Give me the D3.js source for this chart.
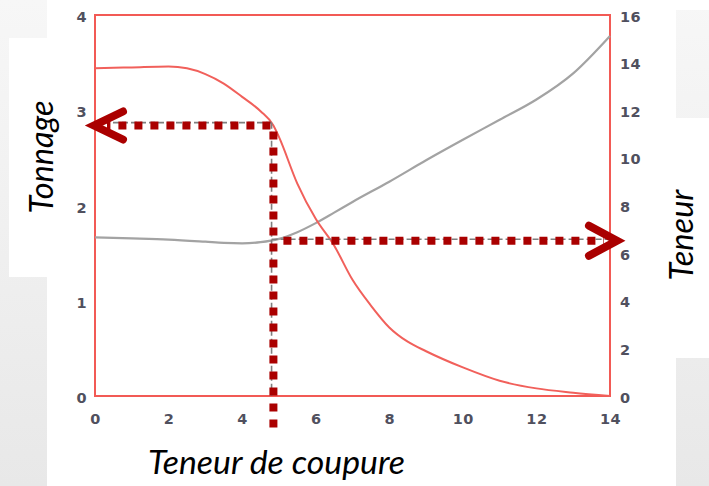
<!DOCTYPE html>
<html>
<head>
<meta charset="utf-8">
<script src="https://cdn.jsdelivr.net/npm/d3@7"></script>
<style>
  html, body { margin: 0; padding: 0; background: #ffffff; }
  svg { display: block; }
</style>
</head>
<body>
<svg id="chart" width="709" height="486"></svg>
<script>
// ---- Data ----
const cutoffX = [0, 1, 2, 2.5, 3, 3.5, 4, 4.5, 4.85, 5, 5.5, 6, 6.5, 7, 7.5, 8, 8.5, 9, 10, 11, 12, 13, 14];
const tonnage = [3.44, 3.45, 3.46, 3.44, 3.38, 3.28, 3.14, 2.99, 2.84, 2.72, 2.23, 1.86, 1.58, 1.22, 0.95, 0.72, 0.57, 0.47, 0.30, 0.16, 0.08, 0.035, 0.0];

const gradeX = [0, 1, 2, 3, 3.5, 4, 4.5, 5, 5.5, 6, 6.5, 7, 8, 9, 10, 11, 12, 13, 14];
const teneur = [6.66, 6.62, 6.57, 6.48, 6.43, 6.41, 6.46, 6.60, 6.88, 7.26, 7.70, 8.15, 9.00, 9.90, 10.76, 11.60, 12.45, 13.55, 15.12];

const xTicks = [0, 2, 4, 6, 8, 10, 12, 14];
const leftTicks = [0, 1, 2, 3, 4];
const rightTicks = [0, 2, 4, 6, 8, 10, 12, 14, 16];

const chosenCutoff = 4.85;      // Teneur de coupure choisie
const tonnageAtCutoff = 2.84;
const teneurAtCutoff = 6.52;
const guideCutoff = 4.80, guideTonnage = 2.87, guideTeneur = 6.58;

const xLabel = "Teneur de coupure";
const yLeftLabel = "Tonnage";
const yRightLabel = "Teneur";

// ---- Layout ----
const svg = d3.select("#chart");
const W = 709, H = 486;
const plot = { left: 95, right: 610, top: 15, bottom: 396 };

const x = d3.scaleLinear().domain([0, 14]).range([plot.left, plot.right]);
const yL = d3.scaleLinear().domain([0, 4]).range([plot.bottom, plot.top]);
const yR = d3.scaleLinear().domain([0, 16]).range([plot.bottom, plot.top]);

// ---- Background (slide) ----
const defs = svg.append("defs");
const grad = defs.append("linearGradient").attr("id", "bg").attr("x1", 0).attr("y1", 0).attr("x2", 0).attr("y2", 1);
grad.append("stop").attr("offset", "0%").attr("stop-color", "#f7f7f7");
grad.append("stop").attr("offset", "100%").attr("stop-color", "#e8e8e8");
svg.append("rect").attr("width", W).attr("height", H).attr("fill", "url(#bg)");
svg.append("rect").attr("x", 47).attr("y", 0).attr("width", 629).attr("height", H).attr("fill", "#ffffff");
svg.append("rect").attr("x", 9).attr("y", 38).attr("width", 40).attr("height", 239).attr("fill", "#ffffff");
svg.append("rect").attr("x", 675).attr("y", 0).attr("width", 34).attr("height", 10).attr("fill", "#ffffff");
svg.append("rect").attr("x", 675).attr("y", 118).attr("width", 34).attr("height", 240).attr("fill", "#ffffff");

// ---- Plot frame ----
svg.append("rect")
  .attr("x", x(0)).attr("y", yL(4))
  .attr("width", x(14) - x(0)).attr("height", yL(0) - yL(4))
  .attr("fill", "none").attr("stroke", "#f25a55").attr("stroke-width", 2);

// ---- Axes (labels only) ----
function styleAxis(g) {
  g.select(".domain").remove();
  g.selectAll(".tick line").remove();
  g.selectAll("text")
    .attr("fill", "#50505e")
    .style("font-family", "'DejaVu Sans', sans-serif")
    .style("font-size", "14.5px")
    .style("font-weight", "bold")
    .style("letter-spacing", "0.5px");
}
svg.append("g").attr("transform", `translate(${plot.left},0)`)
  .call(d3.axisLeft(yL).tickValues(leftTicks).tickSize(0).tickPadding(8).tickFormat(d3.format("d")))
  .call(styleAxis)
  .selectAll("text").attr("dy", "0.45em");
svg.append("g").attr("transform", `translate(${plot.right},0)`)
  .call(d3.axisRight(yR).tickValues(rightTicks).tickSize(0).tickPadding(10).tickFormat(d3.format("d")))
  .call(styleAxis)
  .selectAll("text").attr("dy", "0.42em");
svg.append("g").attr("transform", `translate(0,${plot.bottom})`)
  .call(d3.axisBottom(x).tickValues(xTicks).tickSize(0).tickPadding(18).tickFormat(d3.format("d")))
  .call(styleAxis);

// ---- Curves ----
const lineT = d3.line().x((d, i) => x(cutoffX[i])).y(d => yL(d)).curve(d3.curveMonotoneX);
const lineG = d3.line().x((d, i) => x(gradeX[i])).y(d => yR(d)).curve(d3.curveMonotoneX);

svg.append("path").attr("d", lineG(teneur))
  .attr("fill", "none").attr("stroke", "#a3a3a3").attr("stroke-width", 2.2);
svg.append("path").attr("d", lineT(tonnage))
  .attr("fill", "none").attr("stroke", "#f1605b").attr("stroke-width", 2);

// ---- Gray dashed guides (original) ----
const guide = svg.append("g").attr("fill", "none").attr("stroke", "#7f7f7f")
  .attr("stroke-width", 1.6).attr("stroke-dasharray", "6,3");
guide.append("line").attr("x1", x(0)).attr("x2", x(guideCutoff)).attr("y1", yL(guideTonnage)).attr("y2", yL(guideTonnage));
guide.append("line").attr("x1", x(guideCutoff)).attr("x2", x(guideCutoff)).attr("y1", yL(guideTonnage)).attr("y2", yL(0));
guide.append("line").attr("x1", x(guideCutoff)).attr("x2", x(14)).attr("y1", yR(guideTeneur)).attr("y2", yR(guideTeneur));

// ---- Red dotted overlay + arrows ----
const red = "#aa0000";
const dots = svg.append("g").attr("fill", "none").attr("stroke", red)
  .attr("stroke-width", 8).attr("stroke-dasharray", "8,8");
const cx = x(chosenCutoff);
const ty = yL(tonnageAtCutoff);
const gy = yR(teneurAtCutoff);
dots.append("line").attr("x1", cx - 3).attr("x2", x(0) + 12).attr("y1", ty).attr("y2", ty);
dots.append("line").attr("x1", cx).attr("x2", cx).attr("y1", ty + 6).attr("y2", yL(0) + 33);
dots.append("line").attr("x1", cx + 10).attr("x2", x(14) - 6).attr("y1", gy).attr("y2", gy);

const arrows = svg.append("g").attr("fill", "none").attr("stroke", red)
  .attr("stroke-width", 8).attr("stroke-linecap", "round").attr("stroke-linejoin", "miter");
const lt = x(0) - 1;
arrows.append("path").attr("d", `M${lt + 29},${ty - 14} L${lt},${ty} L${lt + 29},${ty + 14}`);
const rt = x(14) + 7;
arrows.append("path").attr("d", `M${rt - 28},${gy - 15} L${rt},${gy} L${rt - 28},${gy + 15}`);

// ---- Titles ----
const titleFont = "Lato, 'Open Sans', sans-serif";
svg.append("text").text(xLabel)
  .attr("x", 276.5).attr("y", 474).attr("text-anchor", "middle")
  .attr("textLength", 257).attr("lengthAdjust", "spacingAndGlyphs")
  .style("font-family", titleFont).style("font-style", "italic").style("font-size", "32px").attr("fill", "#000");
svg.append("text").text(yLeftLabel)
  .attr("transform", "translate(53,157) rotate(-90)").attr("text-anchor", "middle")
  .attr("textLength", 113).attr("lengthAdjust", "spacingAndGlyphs")
  .style("font-family", titleFont).style("font-style", "italic").style("font-size", "32px").attr("fill", "#000");
svg.append("text").text(yRightLabel)
  .attr("transform", "translate(693,235) rotate(-90)").attr("text-anchor", "middle")
  .attr("textLength", 91).attr("lengthAdjust", "spacingAndGlyphs")
  .style("font-family", titleFont).style("font-style", "italic").style("font-size", "33px").attr("fill", "#000");
</script>
</body>
</html>
